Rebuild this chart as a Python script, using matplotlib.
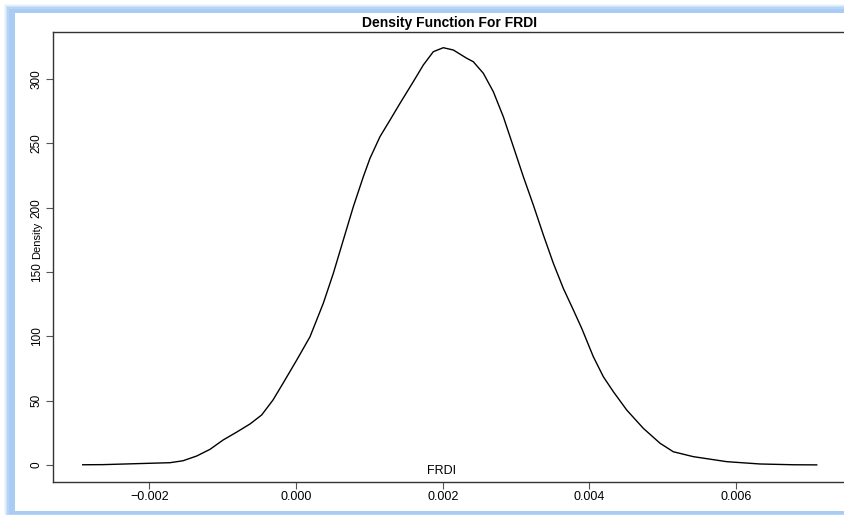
import matplotlib
matplotlib.use("Agg")
import matplotlib.pyplot as plt
from matplotlib.patches import Rectangle

plt.rcParams['font.family'] = ['Liberation Sans', 'DejaVu Sans']

title = "Density Function For FRDI"
xlabel = "FRDI"
ylabel = "Density"

frdi = [-0.002908, -0.002631, -0.001718, -0.001541, -0.001354, -0.001172, -0.000995,
        -0.000808, -0.000627, -0.000468, -0.000314, -0.000177, 0.000010, 0.000191,
        0.000372, 0.000509, 0.000645, 0.000781, 0.000918, 0.001009, 0.001145, 0.001282,
        0.001418, 0.001599, 0.001736, 0.001872, 0.002008, 0.002145, 0.002327, 0.002417,
        0.002554, 0.002690, 0.002826, 0.002963, 0.003099, 0.003235, 0.003372, 0.003508,
        0.003644, 0.003781, 0.003895, 0.004053, 0.004190, 0.004326, 0.004509, 0.004735,
        0.004963, 0.005144, 0.005416, 0.005872, 0.006326, 0.006780, 0.007099]
density = [0.2, 0.3, 1.8, 3.3, 7.0, 12.2, 19.4, 25.6, 31.9, 38.9, 50.5, 63.5, 81.6, 99.7,
           125.7, 149.0, 174.9, 200.7, 224.1, 238.4, 255.2, 268.1, 281.1, 297.9, 310.9,
           321.2, 324.3, 322.5, 316.1, 313.4, 304.4, 290.1, 270.7, 247.4, 224.1, 202.1,
           178.8, 156.8, 137.3, 120.5, 106.2, 84.2, 68.6, 57.0, 42.7, 28.5, 16.9, 10.3,
           6.5, 2.6, 0.8, 0.2, 0.1]

xticks = [-0.002, 0.000, 0.002, 0.004, 0.006]
xticklabels = ["\u22120.002", "0.000", "0.002", "0.004", "0.006"]
yticks = [0, 50, 100, 150, 200, 250, 300]
yticklabels = ["0", "50", "100", "150", "200", "250", "300"]

W, H = 844, 515
fig = plt.figure(figsize=(W / 100, H / 100), dpi=100)
fig.patch.set_facecolor("white")


def fx(px):
    return px / W


def fy(py):
    return 1 - py / H


# blue glow frame
glow = "#a9ccf4"
for i, a in enumerate([0.12, 0.22, 0.35, 0.55]):
    d = 4 - i
    fig.add_artist(Rectangle((fx(8 - d), fy(516 + d)), fx(860), (516 + d - (8 - d)) / H,
                             transform=fig.transFigure, facecolor=glow, edgecolor="none",
                             alpha=a, zorder=0))
fig.add_artist(Rectangle((fx(9), fy(514)), fx(860), (514 - 9) / H,
                         transform=fig.transFigure, facecolor=glow, edgecolor="none", zorder=0))
fig.add_artist(Rectangle((fx(15), fy(511)), fx(860), (511 - 13) / H,
                         transform=fig.transFigure, facecolor="white", edgecolor="none", zorder=0))

ax = fig.add_axes([fx(53), fy(482), (846 - 53) / W, (482 - 32) / H])
ax.set_facecolor("none")
ax.plot(frdi, density, color="black", lw=1.0, solid_joinstyle="round")
ax.set_xlim(-0.003313, 0.007498)
ax.set_ylim(-13.2, 336.5)

for s in ax.spines.values():
    s.set_color("#333333")
    s.set_linewidth(1.0)

ax.set_xticks(xticks)
ax.set_xticklabels(xticklabels, fontsize=9)
ax.set_yticks(yticks)
ax.set_yticklabels(yticklabels, fontsize=8.5, rotation=90, va="center")
ax.tick_params(axis="both", direction="out", length=4.8, width=0.8, color="#555555")
ax.tick_params(axis="x", pad=1.5)
ax.tick_params(axis="y", pad=2.5)

fig.text(fx(449.5), fy(27), title, ha="center", va="baseline", fontsize=10,
         fontweight="bold")
fig.text(fx(442), fy(471), xlabel, ha="center", va="center", fontsize=9)
fig.text(fx(37), fy(240), ylabel, ha="center", va="center", rotation=90, fontsize=8)

fig.savefig("out.png", dpi=100)
